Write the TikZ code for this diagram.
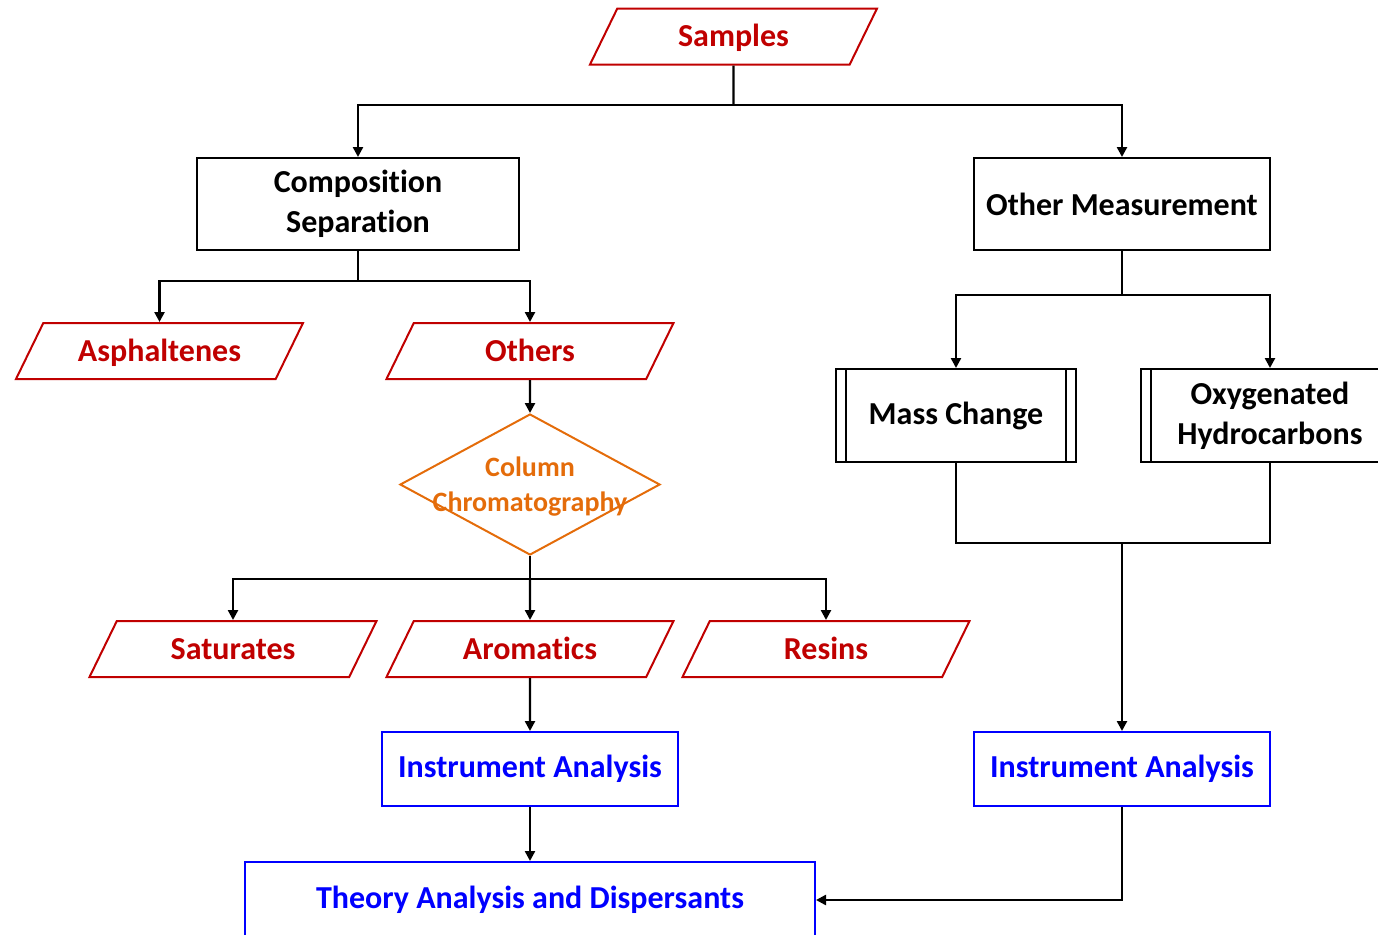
\documentclass[tikz,border=0pt]{standalone}
\usepackage{fontspec}
\setmainfont{Carlito}[Ligatures=NoCommon]
\usetikzlibrary{shapes.geometric,arrows.meta}
\definecolor{darkred}{HTML}{C00000}
\definecolor{pureblue}{HTML}{0000FF}
\definecolor{darkorange}{HTML}{E46C0A}
\begin{document}
\begin{tikzpicture}[x=0.5pt,y=-0.5pt,
    every node/.style={font=\fontsize{16}{20}\selectfont\bfseries,align=center},
    para/.style={trapezium,trapezium left angle=64,trapezium right angle=116,trapezium stretches body,
        draw=darkred,text=darkred,line width=1pt,minimum width=143.5pt,
        text height=12pt,text depth=2pt,inner xsep=0pt,inner ysep=7pt},
    box/.style={rectangle,draw,line width=1pt,inner sep=0pt},
    bluebox/.style={box,draw=pureblue,text=pureblue},
    wire/.style={line width=1.2pt},
    arr/.style={wire,-{Triangle[length=5pt,width=5pt]}}] %Diagrama de flujo de muestras
            \useasboundingbox (0,0) rectangle (1378,934);

            \node[para] (smp) at (733.5,36.5) {Samples};
            \node[box,minimum width=161pt,minimum height=46pt] (cps) at (358,204) {Composit\kern0pt ion\\Separat\kern0pt ion};
            \node[box,minimum width=148pt,minimum height=46pt] (oms) at (1122,204) {Other Measurement};
            \node[para] (asp) at (159.5,351) {Asphaltenes};
            \node[para] (oth) at (530,351) {Others};
            \node[diamond,draw=darkorange,line width=1pt,minimum width=130pt,minimum height=70.5pt,inner sep=0pt,
                label={[text=darkorange,font=\fontsize{14}{17.5}\selectfont\bfseries,yshift=-1pt]center:Column\\Chromatography}] (col) at (530,484.5) {};
            \node[para] (sat) at (233,649) {Saturates};
            \node[para] (aro) at (530,649) {Aromatics};
            \node[para] (res) at (826,649) {Resins};
            \node[bluebox,minimum width=148pt,minimum height=37pt] (ial) at (530,769) {Instrument Analysis};
            \node[bluebox,minimum width=148pt,minimum height=37pt] (iar) at (1122,769) {Instrument Analysis};
            \node[bluebox,minimum width=285pt,minimum height=38pt] (tad) at (530,900) {Theory Analysis and Dispersants};
            \node[box,minimum width=120pt,minimum height=46.5pt] (mch) at (956,415.5) {Mass Change};
            \node[box,minimum width=129pt,minimum height=46.5pt] (oxh) at (1270,415.5) {Oxygenated\\Hydrocarbons};
            \draw[line width=1pt] ([xshift=5.5pt]mch.north west) -- ([xshift=5.5pt]mch.south west);
            \draw[line width=1pt] ([xshift=-5.5pt]mch.north east) -- ([xshift=-5.5pt]mch.south east);
            \draw[line width=1pt] ([xshift=5.5pt]oxh.north west) -- ([xshift=5.5pt]oxh.south west);
            \draw[line width=1pt] ([xshift=-5.5pt]oxh.north east) -- ([xshift=-5.5pt]oxh.south east);

            \coordinate (j1) at (733.5,105);
            \coordinate (j2) at (358,281);
            \coordinate (j3) at (1122,295);
            \coordinate (j4) at (530,579);
            \coordinate (j5) at (1122,543);

            \draw[wire] (smp.south) -- (j1);
            \draw[arr] (j1) -| (cps.north);
            \draw[arr] (j1) -| (oms.north);
            \draw[wire] (cps.south) -- (j2);
            \draw[arr] (j2) -| (asp.north);
            \draw[arr] (j2) -| (oth.north);
            \draw[arr] (oth.south) -- (col.north);
            \draw[wire] (col.south) -- (j4);
            \draw[arr] (j4) -| (sat.north);
            \draw[arr] (j4) -- (aro.north);
            \draw[arr] (j4) -| (res.north);
            \draw[arr] (aro.south) -- (ial.north);
            \draw[arr] (ial.south) -- (tad.north);
            \draw[wire] (oms.south) -- (j3);
            \draw[arr] (j3) -| (mch.north);
            \draw[arr] (j3) -| (oxh.north);
            \draw[wire] (mch.south) |- (j5);
            \draw[wire] (oxh.south) |- (j5);
            \draw[arr] (j5) -- (iar.north);
            \draw[arr] (iar.south) |- (tad.east);
        \end{tikzpicture}
\end{document}
